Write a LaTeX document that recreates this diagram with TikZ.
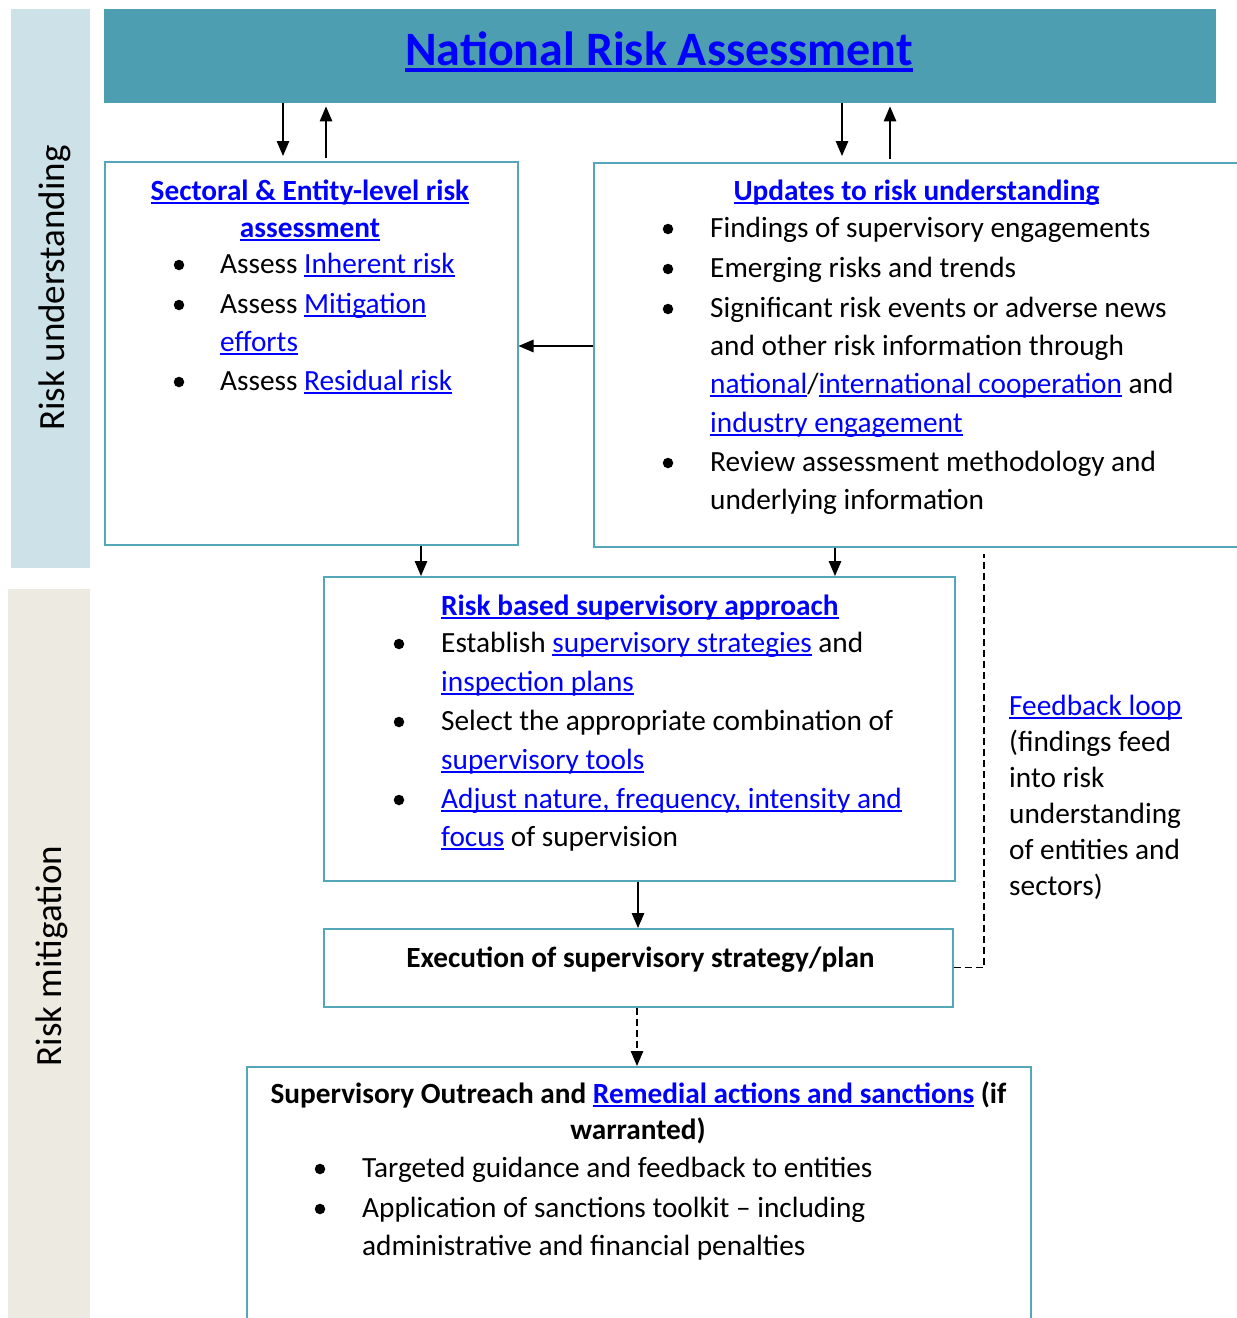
\documentclass[tikz,border=0pt]{standalone}
\usepackage{fontspec}
\setmainfont{Carlito}
\usetikzlibrary{arrows.meta}
\definecolor{hdrc}{RGB}{78,158,177}
\definecolor{bandu}{RGB}{204,226,232}
\definecolor{bandm}{RGB}{237,235,225}
\definecolor{boxc}{RGB}{86,166,186}
\definecolor{lnk}{RGB}{0,0,255}
\newcommand\lk[1]{{\color{lnk}\setbox0=\hbox{#1}\rlap{\rule[-0.14em]{\wd0}{0.07em}}\box0}}
\begin{document}
\begin{tikzpicture}[x=1pt,y=-1pt,
  bx/.style={draw=boxc, line width=1.5pt, inner sep=0, anchor=north west},
  tl/.style={anchor=base west, inner sep=0, font=\fontsize{29.3}{35}\selectfont},
  tc/.style={anchor=base, inner sep=0, font=\fontsize{29.3}{35}\selectfont\bfseries},
  tb/.style={anchor=base west, inner sep=0, font=\fontsize{29.3}{35}\selectfont\bfseries},
  blt/.style={circle, fill=black, inner sep=0, minimum size=10.5pt},
  arr/.style={line width=1.3pt, -{Triangle[length=15pt,width=12.5pt]}},
  fb/.style={line width=1.3pt, dash pattern=on 7pt off 4pt}]
\useasboundingbox (0,0) rectangle (1237,1318);
\clip (0,0) rectangle (1237,1318);
% bands
\node[fill=bandu, inner sep=0, anchor=north west, minimum width=79pt, minimum height=559pt] (bandA) at (11,9) {};
\node[fill=bandm, inner sep=0, anchor=north west, minimum width=82pt, minimum height=740pt] (bandB) at (8,589) {};
\node[rotate=90, inner sep=0, font=\fontsize{37}{44}\selectfont] (labA) at (55,288) {Risk understanding};
\node[rotate=90, inner sep=0, font=\fontsize{37}{44}\selectfont] (labB) at (52,956) {Risk mitigation};
% header
\node[fill=hdrc, inner sep=0, anchor=north west, minimum width=1112pt, minimum height=94pt] (hdr) at (104,9) {};
\node[anchor=base, inner sep=0, font=\fontsize{48}{58}\selectfont\bfseries] (title) at (659,65) {\lk{National Risk Assessment}};
% boxes
\node[bx, minimum width=413pt, minimum height=383pt] (b1) at (104,161) {};
\node[bx, minimum width=670pt, minimum height=384pt] (b2) at (593,162) {};
\node[bx, minimum width=631pt, minimum height=304pt] (b3) at (323,576) {};
\node[bx, minimum width=629pt, minimum height=78pt] (b4) at (323,928) {};
\node[bx, minimum width=784pt, minimum height=290pt] (b5) at (246,1066) {};
% box 1 text
\node[tc] (b1t1) at (310,200) {\lk{Sectoral \& Entity-level risk}};
\node[tc] (b1t2) at (310,237) {\lk{assessment}};
\node[blt] (b1d1) at (179,265) {};
\node[tl] (b1l1) at (220,273) {Assess \lk{Inherent risk}};
\node[blt] (b1d2) at (179,305) {};
\node[tl] (b1l2) at (220,313) {Assess \lk{Mitigation}};
\node[tl] (b1l3) at (220,351) {\lk{efforts}};
\node[blt] (b1d3) at (179,382) {};
\node[tl] (b1l4) at (220,390) {Assess \lk{Residual risk}};
% box 2 text
\node[tc] (b2t1) at (916.5,200) {\lk{Updates to risk understanding}};
\node[blt] (b2d1) at (668,229) {};
\node[tl] (b2l1) at (710,237) {Findings of supervisory engagements};
\node[blt] (b2d2) at (668,269) {};
\node[tl] (b2l2) at (710,277) {Emerging risks and trends};
\node[blt] (b2d3) at (668,309) {};
\node[tl] (b2l3) at (710,317) {Significant risk events or adverse news};
\node[tl] (b2l4) at (710,355) {and other risk information through};
\node[tl] (b2l5) at (710,393) {\lk{national}/\lk{international cooperation} and};
\node[tl] (b2l6) at (710,432) {\lk{industry engagement}};
\node[blt] (b2d4) at (668,463) {};
\node[tl] (b2l7) at (710,471) {Review assessment methodology and};
\node[tl] (b2l8) at (710,509) {underlying information};
% box 3 text
\node[tb] (b3t1) at (441,615) {\lk{Risk based supervisory approach}};
\node[blt] (b3d1) at (399,644) {};
\node[tl] (b3l1) at (441,652) {Establish \lk{supervisory strategies} and};
\node[tl] (b3l2) at (441,691) {\lk{inspection plans}};
\node[blt] (b3d2) at (399,722) {};
\node[tl] (b3l3) at (441,730) {Select the appropriate combination of};
\node[tl] (b3l4) at (441,769) {\lk{supervisory tools}};
\node[blt] (b3d3) at (399,800) {};
\node[tl] (b3l5) at (441,808) {\lk{Adjust nature, frequency, intensity and}};
\node[tl] (b3l6) at (441,846) {\lk{focus} of supervision};
% box 4 text
\node[tc] (b4t1) at (640.5,967) {Execution of supervisory strategy/plan};
% box 5 text
\node[tc] (b5t1) at (638.5,1103) {Supervisory Outreach and \lk{Remedial actions and sanctions} (if};
\node[tc] (b5t2) at (638,1139) {warranted)};
\node[blt] (b5d1) at (320,1169) {};
\node[tl] (b5l1) at (362,1177) {Targeted guidance and feedback to entities};
\node[blt] (b5d2) at (320,1209) {};
\node[tl] (b5l2) at (362,1217) {Application of sanctions toolkit – including};
\node[tl] (b5l3) at (362,1255) {administrative and financial penalties};
% feedback text
\node[tl] (f1) at (1009,715) {\lk{Feedback loop}};
\node[tl] (f2) at (1009,751) {(findings feed};
\node[tl] (f3) at (1009,787) {into risk};
\node[tl] (f4) at (1009,823) {understanding};
\node[tl] (f5) at (1009,859) {of entities and};
\node[tl] (f6) at (1009,895) {sectors)};
% connector coordinates
\coordinate (xa) at (283,0);
\coordinate (xb) at (326,0);
\coordinate (xc) at (842,0);
\coordinate (xd) at (890,0);
\coordinate (xe) at (421,0);
\coordinate (xf) at (835,0);
\coordinate (xg) at (638,0);
\coordinate (xh) at (637,0);
\coordinate (xi) at (984,0);
\coordinate (ya) at (0,346);
% connectors
\draw[arr, shorten >=5pt] (hdr.south -| xa) -- (b1.north -| xa);
\draw[arr, shorten <=3pt, shorten >=3pt] (b1.north -| xb) -- (hdr.south -| xb);
\draw[arr, shorten >=6pt] (hdr.south -| xc) -- (b2.north -| xc);
\draw[arr, shorten <=3pt, shorten >=3pt] (b2.north -| xd) -- (hdr.south -| xd);
\draw[arr] (b2.west |- ya) -- (b1.east |- ya);
\draw[arr] (b1.south -| xe) -- (b3.north -| xe);
\draw[arr] (b2.south -| xf) -- (b3.north -| xf);
\draw[arr] (b3.south -| xg) -- (b4.north -| xg);
\draw[arr, dash pattern=on 7pt off 4pt] (b4.south -| xh) -- (b5.north -| xh);
\draw[fb, shorten >=6pt] (b4.east) -| (b2.south -| xi);
\end{tikzpicture}
\end{document}
